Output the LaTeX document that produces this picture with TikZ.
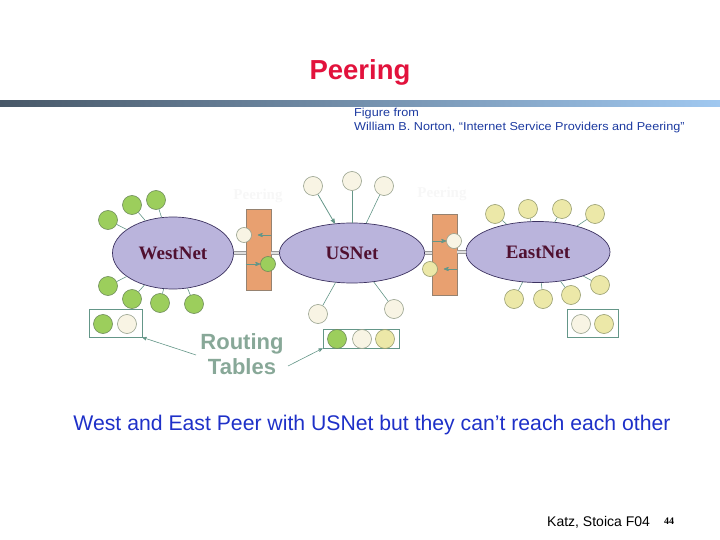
\documentclass[tikz,border=0pt]{standalone}
\usepackage{fontspec}
\setmainfont{Liberation Sans}
\newfontfamily\netfont{Liberation Serif}
\usetikzlibrary{arrows,shapes,positioning}

\definecolor{titlered}{RGB}{226,18,60}
\definecolor{refblue}{RGB}{28,58,160}
\definecolor{capblue}{RGB}{30,48,200}
\definecolor{barleft}{RGB}{72,88,104}
\definecolor{barmid}{RGB}{110,140,180}
\definecolor{barright}{RGB}{160,200,240}
\definecolor{netfill}{RGB}{186,180,220}
\definecolor{netline}{RGB}{60,50,96}
\definecolor{netname}{RGB}{80,16,48}
\definecolor{boxfill}{RGB}{232,160,112}
\definecolor{boxline}{RGB}{150,130,112}
\definecolor{greenfill}{RGB}{156,206,92}
\definecolor{greenline}{RGB}{110,140,90}
\definecolor{creamfill}{RGB}{248,244,228}
\definecolor{creamline}{RGB}{150,160,140}
\definecolor{yellowfill}{RGB}{236,232,168}
\definecolor{yellowline}{RGB}{150,156,110}
\definecolor{tealgray}{RGB}{100,150,136}
\definecolor{routetext}{RGB}{136,168,152}

\begin{document}
\begin{tikzpicture}[x=1pt,y=-1pt,>=stealth',auto]

  \tikzstyle{net}=[ellipse,draw=netline,fill=netfill,line width=0.7pt,text=netname,font=\netfont\bfseries\fontsize{19}{19}\selectfont]
  \tikzstyle{peerbox}=[rectangle,draw=boxline,fill=boxfill,line width=0.8pt,minimum width=25pt,minimum height=81pt,inner sep=0pt]
  \tikzstyle{host}=[circle,minimum size=19pt,inner sep=0pt,line width=0.6pt]
  \tikzstyle{ghost}=[host,draw=greenline,fill=greenfill]
  \tikzstyle{chost}=[host,draw=creamline,fill=creamfill]
  \tikzstyle{yhost}=[host,draw=yellowline,fill=yellowfill]
  \tikzstyle{stub}=[draw=tealgray,line width=0.6pt]
  \tikzstyle{flow}=[->,draw=tealgray,line width=0.8pt]
  \tikzstyle{link}=[draw=gray!80,double=gray!25,line width=1.3pt,double distance=1.6pt]
  \tikzstyle{table}=[rectangle,draw=tealgray,line width=0.8pt,fill=white,inner sep=0pt]
  \tikzstyle{source}=[anchor=base west,text=refblue,font=\fontsize{11.5}{11.5}\selectfont,inner sep=0pt]

  \useasboundingbox (0,0) rectangle (720,540);

  % heading
  \node [text=titlered,font=\bfseries\fontsize{27.5}{27.5}\selectfont] (title) at (360,72) {Peering};
  \shade [left color=barleft,middle color=barmid,right color=barright] (0,101) rectangle (720,107);
  \node [source] (src1) at (354,117) {\scalebox{1.1}[1]{Figure from}};
  \node [source] (src2) at (354,131) {\scalebox{1.1}[1]{William B. Norton, “Internet Service Providers and Peering”}};

  % faint peering labels
  \node [text=black!3,font=\netfont\bfseries\fontsize{15}{15}\selectfont] (pl) at (258,196) {Peering};
  \node [text=black!3,font=\netfont\bfseries\fontsize{15}{15}\selectfont] (pr) at (442,194) {Peering};

  % networks
  \node [net,minimum width=121pt,minimum height=72pt] (west) at (173,253) {WestNet};
  \node [net,minimum width=145pt,minimum height=60pt] (us) at (352,253) {USNet};
  \node [net,minimum width=144pt,minimum height=61pt] (east) at (538,252) {EastNet};

  \node [peerbox] (lbox) at (258.5,249.5) {};
  \node [peerbox] (rbox) at (444.5,254.5) {};

  \draw [link] (west.east) -- (west.east -| lbox.west);
  \draw [link] (lbox.east |- us.west) -- (us.west);
  \draw [link] (us.east) -- (us.east -| rbox.west);
  \draw [link] (rbox.east |- east.west) -- (east.west);

  % routes exchanged at the peering points
  \node [chost,minimum size=15pt] (lc) at (244,235) {};
  \node [ghost,minimum size=15pt] (lg) at (268,264) {};
  \node [chost,minimum size=15pt] (rc) at (454,241) {};
  \node [yhost,minimum size=15pt] (ry) at (430,269) {};
  \draw [flow,shorten >=6pt] (lbox.east |- lc) -- (lc);
  \draw [flow] (lbox.west |- lg) -- (lg);
  \draw [flow] (rbox.west |- rc) -- (rc);
  \draw [flow,shorten >=6pt] (rbox.east |- ry) -- (ry);

  % WestNet customers
  \node [ghost] (w1) at (108,220) {} edge [stub] (west);
  \node [ghost] (w2) at (132,205) {} edge [stub] (west);
  \node [ghost] (w3) at (156,200) {} edge [stub] (west);
  \node [ghost] (w4) at (108,286) {} edge [stub] (west);
  \node [ghost] (w5) at (132,299) {} edge [stub] (west);
  \node [ghost] (w6) at (160,303) {} edge [stub] (west);
  \node [ghost] (w7) at (194,304) {} edge [stub] (west);

  % USNet customers
  \node [chost] (u1) at (313,186) {} edge [flow] (us);
  \node [chost] (u2) at (352,181) {} edge [stub] (us);
  \node [chost] (u3) at (384,186) {} edge [stub] (us);
  \node [chost] (u4) at (318,314) {} edge [stub] (us);
  \node [chost] (u5) at (394,309) {} edge [stub] (us);

  % EastNet customers
  \node [yhost] (e1) at (495,214) {} edge [stub] (east);
  \node [yhost] (e2) at (528,209) {} edge [stub] (east);
  \node [yhost] (e3) at (562,209) {} edge [stub] (east);
  \node [yhost] (e4) at (595,214) {} edge [stub] (east);
  \node [yhost] (e5) at (514,299) {} edge [stub] (east);
  \node [yhost] (e6) at (543,299) {} edge [stub] (east);
  \node [yhost] (e7) at (571,295) {} edge [stub] (east);
  \node [yhost] (e8) at (600,285) {} edge [stub] (east);

  % routing tables
  \node [table,minimum width=53pt,minimum height=28pt] (ltab) at (115.5,323) {};
  \node [ghost] at (103,324) {};
  \node [chost] at (127,324) {};
  \node [table,minimum width=76pt,minimum height=19pt] (mtab) at (361,338.5) {};
  \node [ghost] at (337,339) {};
  \node [chost] at (362,339) {};
  \node [yhost] at (385,339) {};
  \node [table,minimum width=51pt,minimum height=28pt] (rtab) at (592.5,323) {};
  \node [chost] at (581,324) {};
  \node [yhost] at (604,324) {};

  \node [text=routetext,font=\bfseries\fontsize{22}{25}\selectfont,align=center] (rt) at (242,354) {Routing\\Tables};
  \coordinate (rtw) at (196,355);
  \coordinate (rte) at (288,366);
  \draw [flow,line width=0.6pt] (rtw) -- (ltab.south east);
  \draw [flow,line width=0.6pt] (rte) -- (mtab.south west);

  % caption and footer
  \node [text=capblue,font=\fontsize{21.2}{21.2}\selectfont] (cap) at (372,425) {West and East Peer with USNet but they can’t reach each other};
  \node [anchor=base west,font=\fontsize{14}{14}\selectfont,inner sep=0pt] (foot) at (547,526) {Katz, Stoica F04};
  \node [anchor=base west,font=\netfont\bfseries\fontsize{10}{10}\selectfont,inner sep=0pt] (page) at (664,524) {44};

\end{tikzpicture}
\end{document}
